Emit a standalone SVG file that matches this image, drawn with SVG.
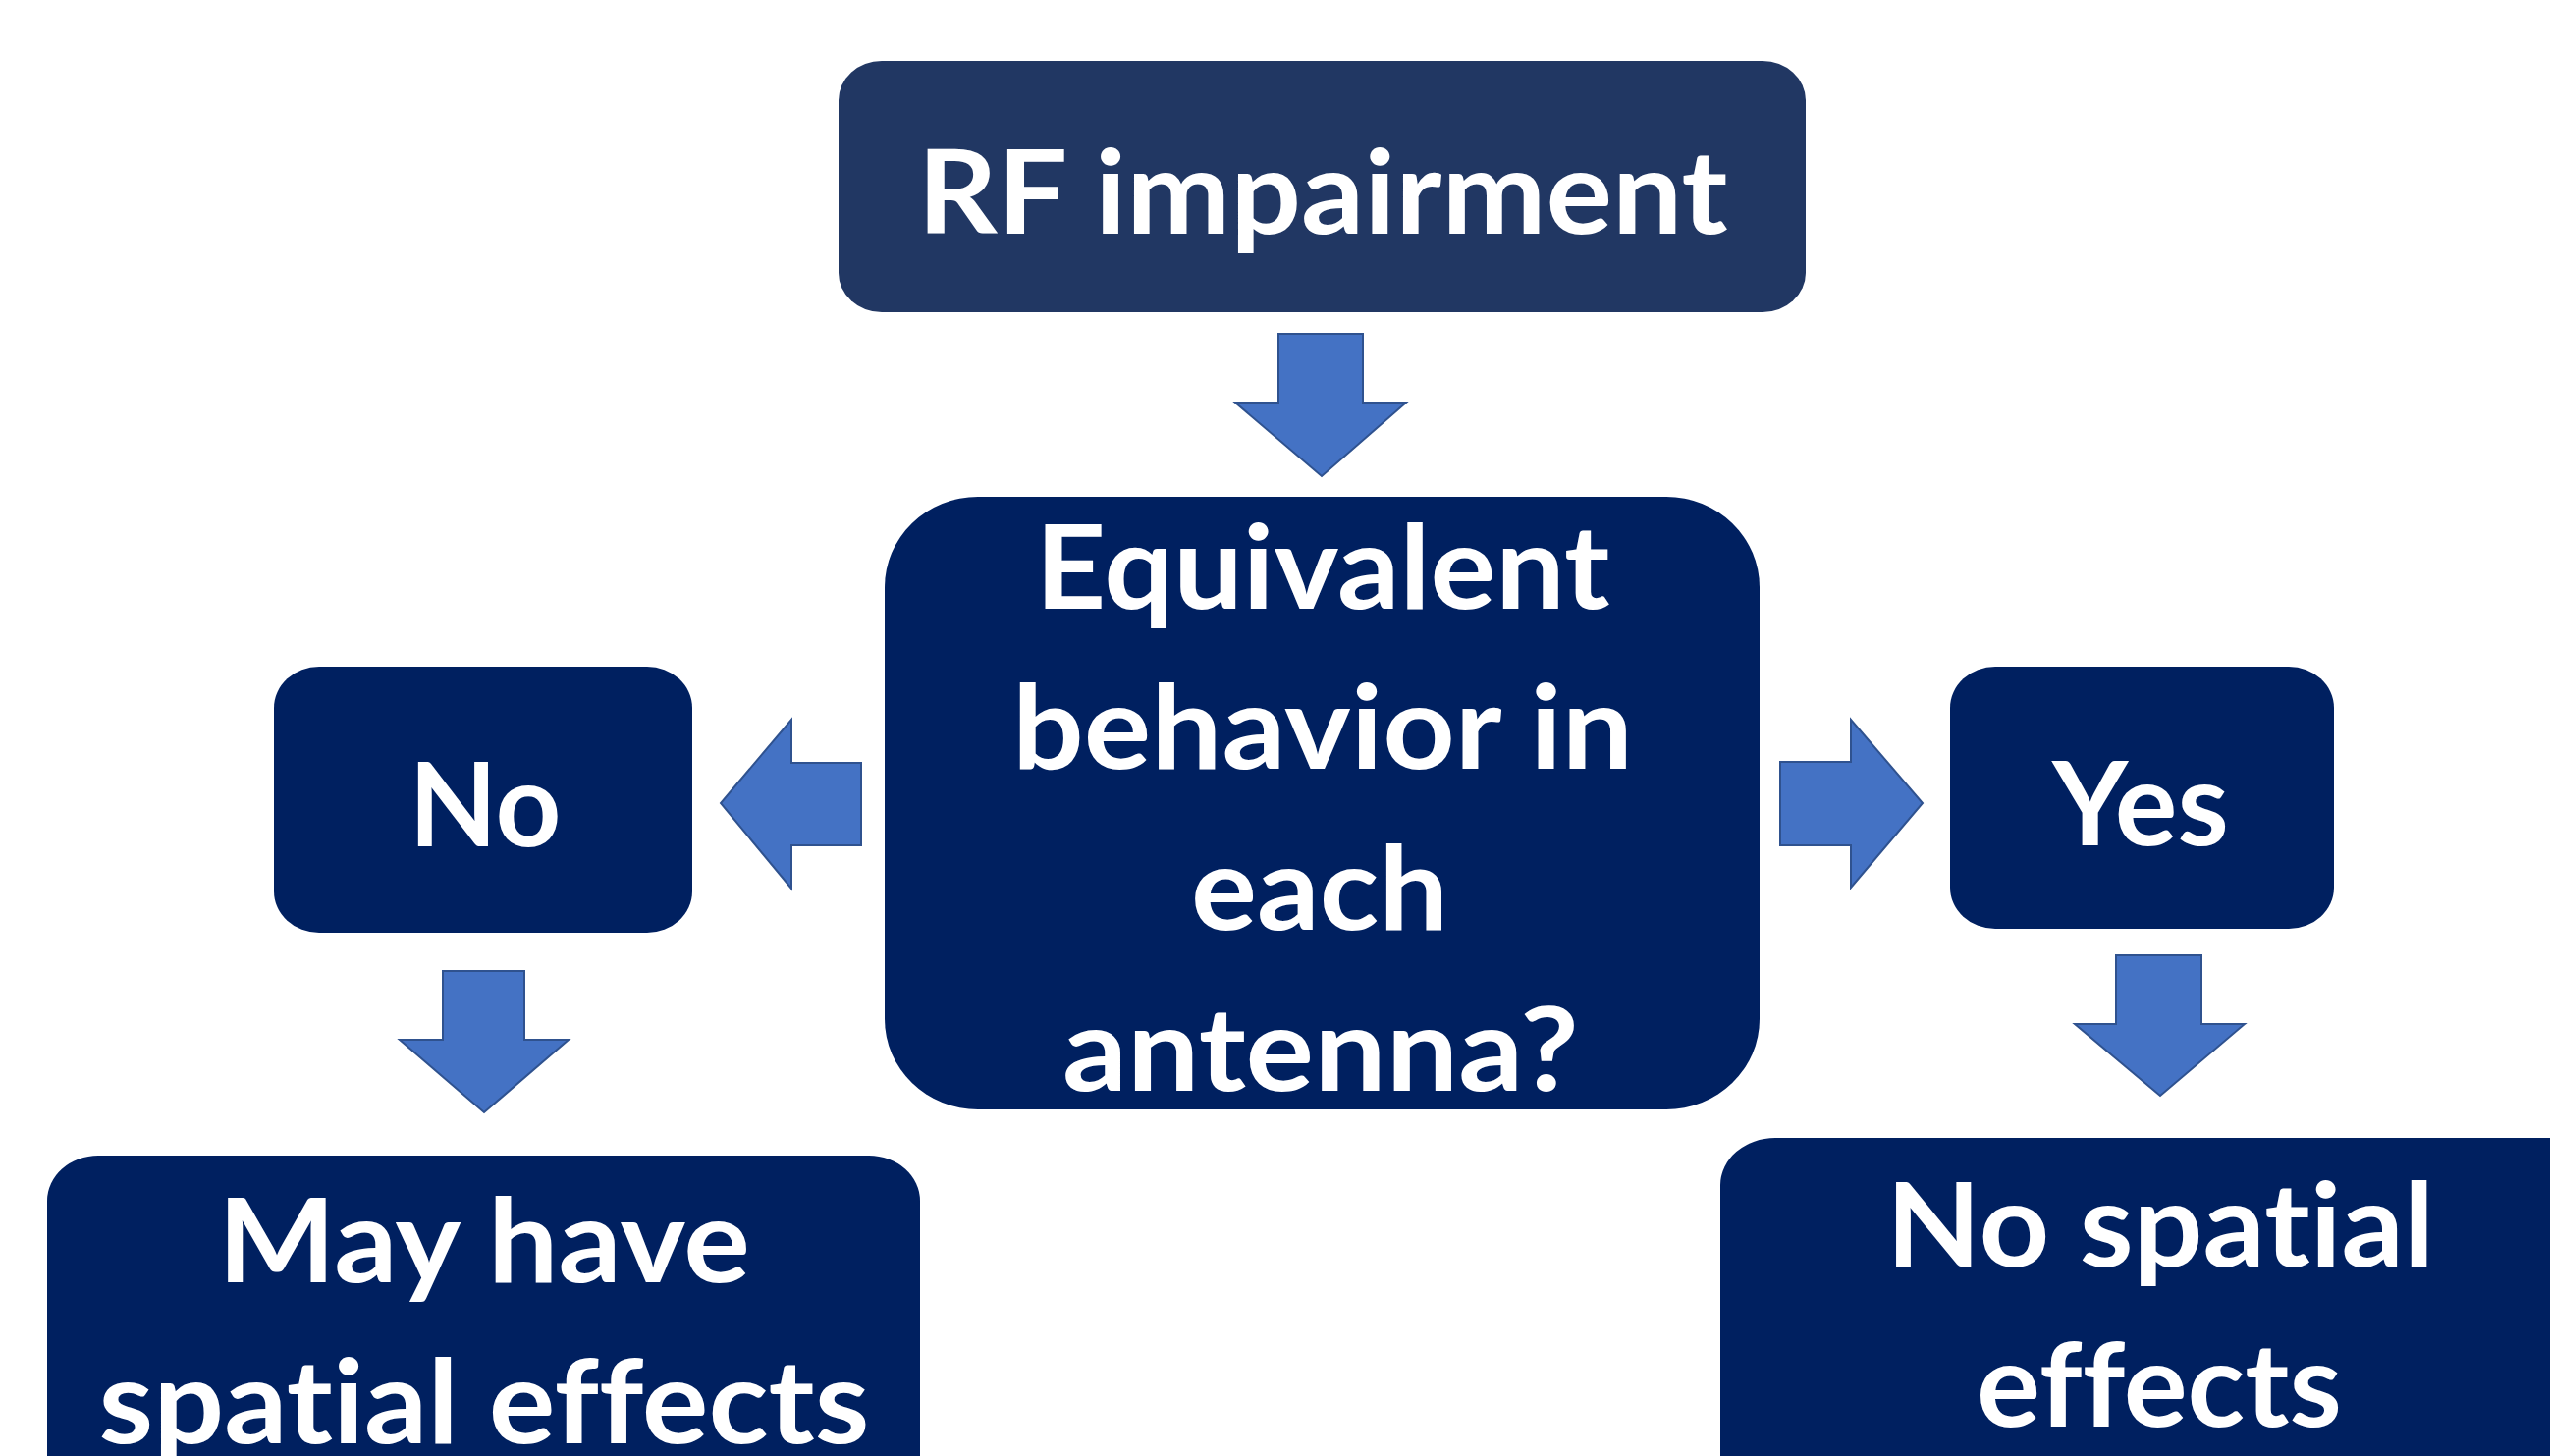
<svg xmlns="http://www.w3.org/2000/svg" width="2597" height="1483" viewBox="0 0 2597 1483">
<style>
.box{fill:#002060;}
.top{fill:#213763;}
.lbl{font-family:Lato,"Open Sans","Liberation Sans",sans-serif;font-weight:700;font-size:118px;fill:#ffffff;text-anchor:middle;font-variant-ligatures:none;font-feature-settings:"liga" 0,"clig" 0,"dlig" 0;}
.arr{fill:#4472C4;stroke:#2F528F;stroke-width:2;stroke-linejoin:miter;}
</style>
<rect x="0" y="0" width="2597" height="1483" fill="#ffffff"/>
<g id="connectors">
<polygon class="arr" points="1302,340 1388,340 1388,410 1432,410 1346,485 1258,410 1302,410"/>
<polygon class="arr" points="877,777 877,861 806,861 806,905 734,818 806,733 806,777"/>
<polygon class="arr" points="1813,776 1885,776 1885,733 1958,818 1885,904 1885,861 1813,861"/>
<polygon class="arr" points="451,989 534,989 534,1059 579,1059 493,1133 407,1059 451,1059"/>
<polygon class="arr" points="2155,973 2242,973 2242,1043 2286,1043 2200,1116 2113,1043 2155,1043"/>
</g>
<g id="rf">
<rect class="top" x="854" y="62" width="985" height="256" rx="44" ry="40"/>
<text class="lbl" x="1347" y="238" textLength="825" lengthAdjust="spacingAndGlyphs">RF impairment</text>
</g>
<g id="question">
<rect class="box" x="901" y="506" width="891" height="624" rx="95" ry="92"/>
<text class="lbl" x="1347" y="620" textLength="585" lengthAdjust="spacingAndGlyphs">Equivalent</text>
<text class="lbl" x="1347" y="783" textLength="632" lengthAdjust="spacingAndGlyphs">behavior in</text>
<text class="lbl" x="1344" y="947" textLength="262" lengthAdjust="spacingAndGlyphs">each</text>
<text class="lbl" x="1345" y="1111" textLength="526" lengthAdjust="spacingAndGlyphs">antenna?</text>
</g>
<g id="no">
<rect class="box" x="279" y="679" width="426" height="271" rx="46" ry="42"/>
<text class="lbl" x="494" y="862" textLength="155" lengthAdjust="spacingAndGlyphs">No</text>
</g>
<g id="yes">
<rect class="box" x="1986" y="679" width="391" height="267" rx="46" ry="42"/>
<text class="lbl" x="2180" y="861" textLength="180" lengthAdjust="spacingAndGlyphs">Yes</text>
</g>
<g id="may">
<rect class="box" x="48" y="1177" width="889" height="400" rx="52" ry="46"/>
<text class="lbl" x="493" y="1306" textLength="542" lengthAdjust="spacingAndGlyphs">May have</text>
<text class="lbl" x="493" y="1470" textLength="785" lengthAdjust="spacingAndGlyphs">spatial effects</text>
</g>
<g id="nospatial">
<rect class="box" x="1752" y="1159" width="950" height="420" rx="56" ry="48"/>
<text class="lbl" x="2200" y="1290" textLength="558" lengthAdjust="spacingAndGlyphs">No spatial</text>
<text class="lbl" x="2199" y="1453" textLength="372" lengthAdjust="spacingAndGlyphs">effects</text>
</g>
</svg>
